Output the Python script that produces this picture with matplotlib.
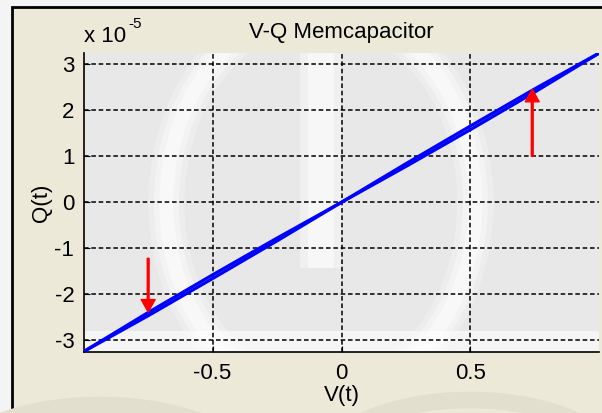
import matplotlib
matplotlib.use("Agg")
import matplotlib.pyplot as plt
from matplotlib.patches import Rectangle, Ellipse

plt.rcParams["font.family"] = ["Liberation Sans", "DejaVu Sans"]

# Memcapacitor V-Q loop (charge in units of 1e-5 C)
v_points = [-1.0, -0.75, -0.5, -0.25, 0.0, 0.25, 0.5, 0.75, 1.0]
q_rising = [-3.25, -2.47, -1.66, -0.84, 0.0, 0.78, 1.58, 2.40, 3.25]
q_falling = [-3.25, -2.40, -1.58, -0.78, 0.0, 0.84, 1.66, 2.47, 3.25]

x_ticks = [-0.5, 0, 0.5]
y_ticks = [-3, -2, -1, 0, 1, 2, 3]

# direction arrows: (v, q_start, q_end)
arrow_up = (0.74, 1.0, 2.46)
arrow_down = (-0.75, -1.22, -2.39)

fig = plt.figure(figsize=(6.02, 4.13), dpi=100)
fig.patch.set_facecolor("#f4f4f4")

W, H = 602, 413
def fx(px):
    return px / W
def fy(py):
    return 1 - py / H

# window frame
fig.patches.append(Rectangle((fx(12), fy(420)), fx(600), fy(7) - fy(420),
                             transform=fig.transFigure, facecolor="#ece9d8",
                             edgecolor="black", linewidth=2, zorder=0))
# faint watermark arcs in the frame area
for cx, cy, w, h in [(100, 480, 320, 150), (470, 470, 300, 140)]:
    fig.patches.append(Ellipse((fx(cx), fy(cy)), w / W, h / H,
                               transform=fig.transFigure, fill=False,
                               edgecolor="#e2dfce", linewidth=12, zorder=0.5))

ax = fig.add_axes([fx(84), fy(352), fx(599) - fx(84), fy(53) - fy(352)])
ax.set_zorder(2)
ax.set_facecolor("#e8e8e8")

# soft watermark inside the plot area
for lw, a in [(26, 0.25), (18, 0.35), (10, 0.45)]:
    ax.add_patch(Ellipse((0.46, 0.50), 0.60, 1.30, transform=ax.transAxes,
                         fill=False, edgecolor="white", linewidth=lw, alpha=a,
                         zorder=0.2))
for x0, wd, a in [(0.42, 0.08, 0.35), (0.435, 0.05, 0.5)]:
    ax.add_patch(Rectangle((x0, 0.28), wd, 0.75, transform=ax.transAxes,
                           facecolor="white", edgecolor="none", alpha=a,
                           zorder=0.2))
ax.add_patch(Rectangle((0.0, 0.0), 1.0, 0.07, transform=ax.transAxes,
                       facecolor="white", edgecolor="none", alpha=0.6,
                       zorder=0.2))

ax.plot(v_points, q_rising, color="#0000ff", linewidth=2.3, zorder=3)
ax.plot(v_points, q_falling, color="#0000ff", linewidth=2.3, zorder=3)

for v, q0, q1 in (arrow_up, arrow_down):
    ax.annotate("", xy=(v, q1), xytext=(v, q0),
                arrowprops=dict(color="red", width=1.3, headwidth=10,
                                headlength=9, shrink=0), zorder=4)

ax.set_xlim(-0.999, 0.999)
ax.set_ylim(-3.26, 3.25)
ax.set_xticks(x_ticks)
ax.set_xticklabels(["-0.5", "0", "0.5"])
ax.set_yticks(y_ticks)
ax.set_yticklabels([str(t) for t in y_ticks])
ax.tick_params(direction="in", length=4, labelsize=16, colors="black")
ax.tick_params(axis="x", pad=8)
ax.tick_params(axis="y", pad=7)

ax.grid(True, color="black", linestyle=(0, (3, 1.8)), linewidth=1.1)
ax.set_axisbelow(False)
for side in ("top", "right"):
    ax.spines[side].set_visible(False)
for side in ("left", "bottom"):
    ax.spines[side].set_linewidth(1.2)

ax.set_title("V-Q Memcapacitor", fontsize=16, pad=11)
ax.set_xlabel("V(t)", fontsize=16, labelpad=1)
ax.set_ylabel("Q(t)", fontsize=16, labelpad=2)

fig.text(fx(84), fy(42), "x 10", fontsize=16, va="baseline", zorder=3)
fig.text(fx(128), fy(28), "-5", fontsize=11, va="baseline", zorder=3)

fig.savefig("out.png", dpi=100, facecolor=fig.get_facecolor())
